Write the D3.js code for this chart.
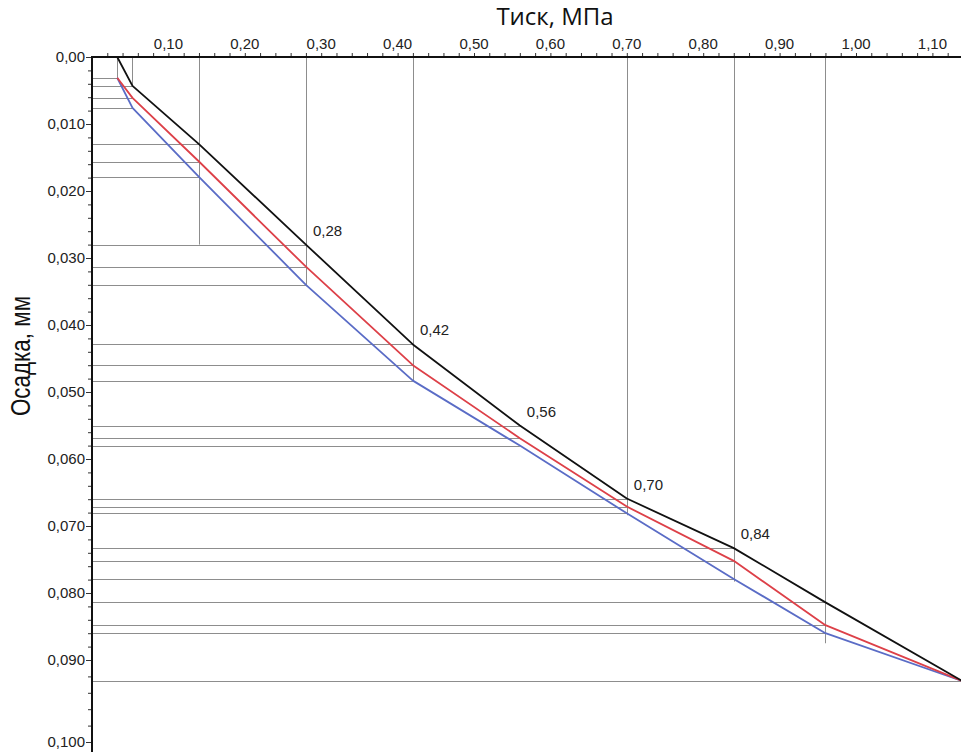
<!DOCTYPE html>
<html>
<head>
<meta charset="utf-8">
<script src="https://d3js.org/d3.v7.min.js"></script>
<style>
  body { margin: 0; background: #fff; }
  svg { display: block; }
</style>
</head>
<body>
<div id="chart"></div>
<script>
// Pressure steps, MPa
const pressure = [0.033, 0.053, 0.14, 0.28, 0.42, 0.56, 0.70, 0.84, 0.96, 1.14];

// Settlement curves, mm
const settleBlack = [0.0000, 0.0043, 0.0130, 0.0280, 0.0429, 0.0550, 0.0659, 0.0733, 0.0814, 0.0926];
const settleRed   = [0.0031, 0.0061, 0.0156, 0.0313, 0.0460, 0.0569, 0.0671, 0.0752, 0.0848, 0.0926];
const settleBlue  = [0.0031, 0.0076, 0.0179, 0.0340, 0.0483, 0.0580, 0.0681, 0.0779, 0.0860, 0.0926];

// pressures that get a vertical guide, and how deep it goes
const guideP     = [0.033, 0.053, 0.14, 0.28, 0.42, 0.70, 0.84, 0.96];
const guideDepth = [0.0031, 0.0043, 0.0280, 0.0342, 0.0484, 0.0684, 0.0783, 0.0875];

// annotated pressures
const labelP = [0.28, 0.42, 0.56, 0.70, 0.84];

const xTicks = [0.10, 0.20, 0.30, 0.40, 0.50, 0.60, 0.70, 0.80, 0.90, 1.00, 1.10];
const yTicks = [0, 0.01, 0.02, 0.03, 0.04, 0.05, 0.06, 0.07, 0.08, 0.09, 0.10];

const width = 961, height = 752;
const x0 = 92, y0 = 57;

const x = d3.scaleLinear().domain([0, 1.14]).range([x0, x0 + 1.14 * 764]);
// the printed axis is stretched below 0,090
const y = d3.scaleLinear().domain([0, 0.09, 0.1]).range([y0, 660, 742]);

const comma = f => v => d3.format(f)(v).replace(".", ",");
const font = "'Liberation Sans', Arial, sans-serif";

const svg = d3.select("#chart").append("svg")
    .attr("width", width)
    .attr("height", height);

const series = [
    { values: settleBlue,  color: "#5a6cc6" },
    { values: settleRed,   color: "#dd4048" },
    { values: settleBlack, color: "#111111" }
];

// horizontal guides from the axis to each measured point
const guides = svg.append("g").attr("stroke", "#8d8d8d").attr("stroke-width", 1);
series.forEach(s => {
    s.values.forEach((v, i) => {
        if (v === 0) return;
        guides.append("line")
            .attr("x1", x0).attr("x2", x(pressure[i]))
            .attr("y1", Math.round(y(v)) + 0.5).attr("y2", Math.round(y(v)) + 0.5);
    });
});

// vertical guides
guideP.forEach((p, i) => {
    guides.append("line")
        .attr("x1", Math.round(x(p)) + 0.5).attr("x2", Math.round(x(p)) + 0.5)
        .attr("y1", y0).attr("y2", y(guideDepth[i]));
});

// curves
const line = d3.line()
    .x((d, i) => x(pressure[i]))
    .y(d => y(d));

series.forEach(s => {
    svg.append("path")
        .datum(s.values)
        .attr("fill", "none")
        .attr("stroke", s.color)
        .attr("stroke-width", 1.8)
        .attr("stroke-linejoin", "round")
        .attr("d", line);
});

// point labels
svg.append("g").selectAll("text")
    .data(labelP)
    .join("text")
    .attr("x", p => x(p) + 7)
    .attr("y", p => y(settleBlack[pressure.indexOf(p)]) - 9)
    .attr("font-family", font)
    .attr("font-size", 15)
    .attr("fill", "#222")
    .text(p => comma(".2f")(p));

// top axis
const xAxis = d3.axisTop(x)
    .tickValues(d3.range(0.02, 1.15, 0.02))
    .tickSize(4)
    .tickFormat("");
const gx = svg.append("g")
    .attr("transform", `translate(0,${y0})`)
    .call(xAxis);
gx.select(".domain").remove();
gx.selectAll(".tick line").attr("stroke", "#333");

svg.append("g").selectAll("text")
    .data(xTicks)
    .join("text")
    .attr("x", d => x(d))
    .attr("y", y0 - 8)
    .attr("text-anchor", "middle")
    .attr("font-family", font)
    .attr("font-size", 15)
    .attr("fill", "#222")
    .text(d => comma(".2f")(d));

svg.append("line")
    .attr("x1", x0).attr("x2", width)
    .attr("y1", y0).attr("y2", y0)
    .attr("stroke", "#111").attr("stroke-width", 2);

// left axis
const yMinor = d3.axisLeft(y)
    .tickValues(d3.range(0.002, 0.1, 0.002))
    .tickSize(4)
    .tickFormat("");
const gyMinor = svg.append("g").attr("transform", `translate(${x0},0)`).call(yMinor);
gyMinor.select(".domain").remove();
gyMinor.selectAll(".tick line").attr("stroke", "#333");

const yAxis = d3.axisLeft(y)
    .tickValues(yTicks)
    .tickSize(6)
    .tickFormat(d => d === 0 ? "0,00" : comma(".3f")(d));
const gy = svg.append("g").attr("transform", `translate(${x0},0)`).call(yAxis);
gy.select(".domain").remove();
gy.selectAll(".tick line").attr("stroke", "#333");
gy.selectAll(".tick text")
    .attr("font-family", font)
    .attr("font-size", 15)
    .attr("fill", "#222")
    .attr("x", -7);

svg.append("line")
    .attr("x1", x0).attr("x2", x0)
    .attr("y1", y0 - 1).attr("y2", height)
    .attr("stroke", "#111").attr("stroke-width", 2);

// titles
svg.append("text")
    .attr("x", 555)
    .attr("y", 25)
    .attr("text-anchor", "middle")
    .attr("font-family", "'Open Sans', sans-serif")
    .attr("font-size", 24)
    .attr("fill", "#111")
    .text("Тиск, МПа");

svg.append("text")
    .attr("transform", "translate(30,356) rotate(-90) scale(0.8,1)")
    .attr("text-anchor", "middle")
    .attr("font-family", font)
    .attr("font-size", 28)
    .attr("fill", "#111")
    .text("Осадка, мм");
</script>
</body>
</html>
